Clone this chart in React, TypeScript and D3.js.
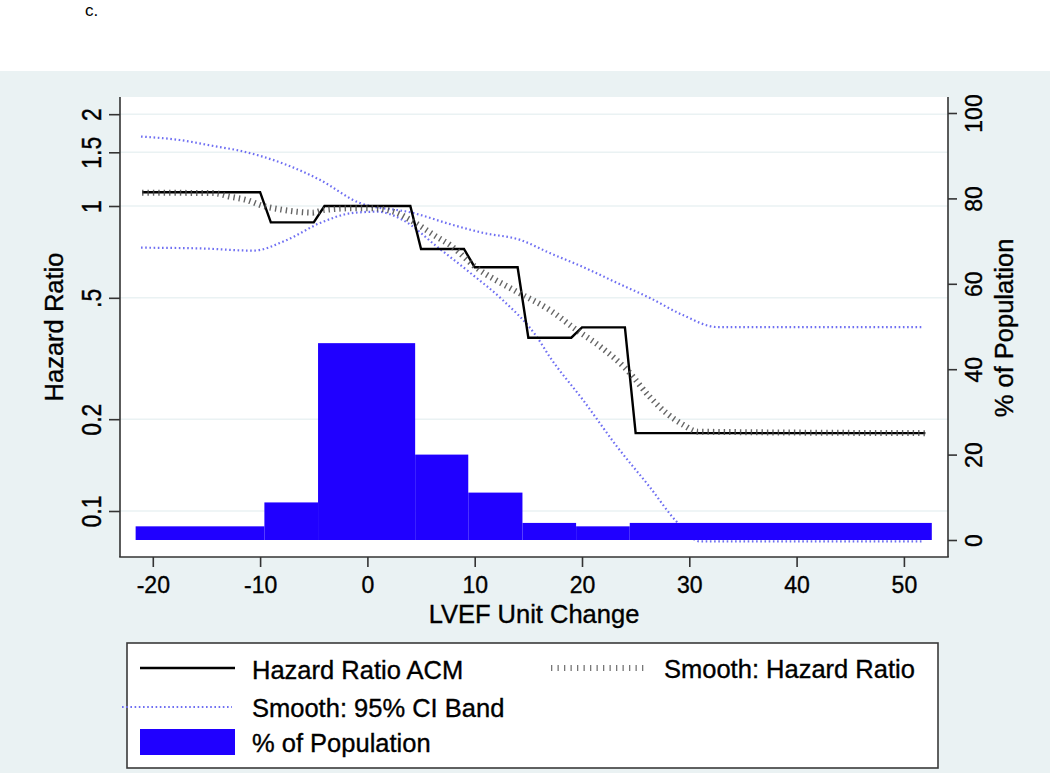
import React, { useEffect, useRef } from 'react';
import * as d3 from 'd3';

// Hazard Ratio ACM (step estimate), breakpoints
const hrX = [-21, -10, -9, -5, -4, 4, 5, 9, 10, 14, 15, 19, 20, 24, 25, 52];
const hrY = [1.11, 1.11, 0.884, 0.884, 1.0, 1.0, 0.723, 0.723, 0.63, 0.63, 0.37, 0.37, 0.4, 0.4, 0.18, 0.18];

// Smooth: Hazard Ratio
const smoothX = [-21, -14.4, -12.8, -11.25, -9.7, -8.15, -6.6, -5.1, -4.05, -1.35, 0.5, 2.75, 4.0, 6.5, 7.7, 10.05, 13.9, 17.0, 19.5, 21.7, 24.2, 26.3, 27.9, 29.4, 30.8, 52];
const smoothY = [1.105, 1.103, 1.073, 1.046, 1.0, 0.975, 0.958, 0.951, 0.97, 0.983, 0.983, 0.949, 0.9, 0.791, 0.745, 0.632, 0.524, 0.456, 0.392, 0.346, 0.29, 0.237, 0.209, 0.192, 0.182, 0.18];

// Smooth: 95% CI band
const upperX = [-21.1, -17.5, -14.0, -12.2, -7.5, -4.4, -0.7, 4.25, 8.0, 10.8, 14.25, 17.0, 20.1, 23.3, 26.3, 29.4, 32.6, 51.8];
const upperY = [1.689, 1.646, 1.565, 1.526, 1.363, 1.217, 1.023, 0.949, 0.866, 0.816, 0.774, 0.701, 0.631, 0.559, 0.5, 0.439, 0.401, 0.401];
const lowerX = [-21.1, -15.6, -10.65, -7.5, -4.4, -1.34, 0.9, 3.3, 6.5, 9.6, 12.6, 15.8, 17.0, 20.1, 23.3, 26.3, 28.85, 31.0, 51.8];
const lowerY = [0.73, 0.726, 0.714, 0.774, 0.88, 0.949, 0.958, 0.9, 0.735, 0.603, 0.492, 0.372, 0.32, 0.231, 0.162, 0.12, 0.092, 0.0795, 0.0795];

// % of Population histogram
const binEdges = [-21.6, -9.6, -4.6, 4.45, 9.4, 14.45, 19.45, 24.45, 52.6];
const popPct = [3.2, 8.8, 46.1, 20.0, 11.1, 4.0, 3.2, 4.0];

const xTicks = [-20, -10, 0, 10, 20, 30, 40, 50];
const hrTicks = [0.1, 0.2, 0.5, 1, 1.5, 2];
const hrTickLabels = ['0.1', '0.2', '.5', '1', '1.5', '2'];
const pctTicks = [0, 20, 40, 60, 80, 100];

const BG = '#eaf2f3';
const BLUE = '#2000ff';
const CI = '#6f6ff2';
const FONT = "'Liberation Sans', Arial, Helvetica, sans-serif";
const TXT_STROKE = 0.35;

export default function App() {
  const ref = useRef<SVGSVGElement>(null);

  useEffect(() => {
    const svg = d3.select(ref.current);
    svg.selectAll('*').remove();

    const left = 120;
    const right = 948;
    const top = 97;
    const bottom = 557;

    const x = d3.scaleLinear().domain([-20, 50]).range([152.8, 903.9]);
    const yHr = d3.scaleLog().domain([0.1, 1]).range([511, 206]);
    const yPct = d3.scaleLinear().domain([0, 100]).range([540, 113]);

    // background regions
    svg.append('rect').attr('x', 0).attr('y', 0).attr('width', 1050).attr('height', 773).attr('fill', '#fff');
    svg.append('rect').attr('x', 0).attr('y', 71).attr('width', 1050).attr('height', 702).attr('fill', BG);
    svg.append('rect').attr('x', left).attr('y', top).attr('width', right - left).attr('height', bottom - top).attr('fill', '#fff');

    svg.append('text').attr('x', 85).attr('y', 16).attr('font-size', 17).attr('font-family', FONT).text('c.');

    // grid lines
    svg
      .append('g')
      .selectAll('line')
      .data(hrTicks)
      .enter()
      .append('line')
      .attr('x1', left)
      .attr('x2', right)
      .attr('y1', (d) => yHr(d))
      .attr('y2', (d) => yHr(d))
      .attr('stroke', BG)
      .attr('stroke-width', 1.6);

    const hrLine = d3
      .line<[number, number]>()
      .x((d) => x(d[0]))
      .y((d) => yHr(d[1]));

    const zip = (a: number[], b: number[]) => a.map((v, i) => [v, b[i]] as [number, number]);

    // CI band
    [zip(upperX, upperY), zip(lowerX, lowerY)].forEach((pts) => {
      svg
        .append('path')
        .attr('d', hrLine.curve(d3.curveMonotoneX)(pts))
        .attr('fill', 'none')
        .attr('stroke', CI)
        .attr('stroke-width', 2.2)
        .attr('stroke-dasharray', '1.6 2.6');
    });

    // histogram bars
    svg
      .append('g')
      .selectAll('rect')
      .data(popPct)
      .enter()
      .append('rect')
      .attr('x', (d, i) => x(binEdges[i]))
      .attr('width', (d, i) => x(binEdges[i + 1]) - x(binEdges[i]))
      .attr('y', (d) => yPct(d))
      .attr('height', (d) => yPct(0) - yPct(d))
      .attr('fill', BLUE);

    // step hazard ratio
    svg
      .append('path')
      .attr('d', hrLine.curve(d3.curveLinear)(zip(hrX, hrY)))
      .attr('fill', 'none')
      .attr('stroke', '#000')
      .attr('stroke-width', 2.4);

    // smooth hazard ratio (hatched)
    svg
      .append('path')
      .attr('d', hrLine.curve(d3.curveMonotoneX)(zip(smoothX, smoothY)))
      .attr('fill', 'none')
      .attr('stroke', '#4a4a4a')
      .attr('stroke-opacity', 0.85)
      .attr('stroke-width', 6)
      .attr('stroke-dasharray', '1.4 4');

    // axis lines
    const axisColor = '#333';
    svg.append('line').attr('x1', left).attr('x2', left).attr('y1', top).attr('y2', bottom).attr('stroke', axisColor).attr('stroke-width', 1.6);
    svg.append('line').attr('x1', right).attr('x2', right).attr('y1', top).attr('y2', bottom).attr('stroke', axisColor).attr('stroke-width', 1.6);
    svg.append('line').attr('x1', left - 0.8).attr('x2', right + 0.8).attr('y1', bottom).attr('y2', bottom).attr('stroke', axisColor).attr('stroke-width', 1.6);

    const styleAxis = (g: any) => {
      g.select('.domain').remove();
      g.selectAll('line').attr('stroke', axisColor).attr('stroke-width', 1.6);
      g.selectAll('text')
        .attr('fill', '#000')
        .attr('stroke', '#000')
        .attr('stroke-width', TXT_STROKE)
        .attr('font-family', FONT);
    };

    const xAxis = svg
      .append('g')
      .attr('transform', `translate(0, ${bottom})`)
      .call(d3.axisBottom(x).tickValues(xTicks).tickSize(10).tickFormat((d: any) => String(d)));
    styleAxis(xAxis);
    xAxis.selectAll('text').attr('y', 36).attr('dy', 0).attr('font-size', 23);

    const yAxisL = svg
      .append('g')
      .attr('transform', `translate(${left}, 0)`)
      .call(
        d3
          .axisLeft(yHr)
          .tickValues(hrTicks)
          .tickSize(11)
          .tickFormat((d: any, i: number) => hrTickLabels[i])
      );
    styleAxis(yAxisL);
    yAxisL
      .selectAll('text')
      .attr('x', 0)
      .attr('dy', 0)
      .attr('text-anchor', 'middle')
      .attr('font-size', 23)
      .attr('transform', 'translate(-19,0) rotate(-90) scale(1,1.2)');

    const yAxisR = svg
      .append('g')
      .attr('transform', `translate(${right}, 0)`)
      .call(d3.axisRight(yPct).tickValues(pctTicks).tickSize(9));
    styleAxis(yAxisR);
    yAxisR
      .selectAll('text')
      .attr('x', 0)
      .attr('dy', 0)
      .attr('text-anchor', 'middle')
      .attr('font-size', 23)
      .attr('transform', 'translate(34,0) rotate(-90)');

    const title = (sel: any) =>
      sel
        .attr('text-anchor', 'middle')
        .attr('font-size', 25.5)
        .attr('font-family', FONT)
        .attr('stroke', '#000')
        .attr('stroke-width', TXT_STROKE);

    // axis titles
    svg.append('text').attr('x', 534).attr('y', 623).call(title).text('LVEF Unit Change');
    svg.append('text').attr('transform', 'translate(63,327) rotate(-90)').call(title).text('Hazard Ratio');
    svg.append('text').attr('transform', 'translate(1013,328) rotate(-90)').call(title).text('% of Population');

    // legend
    const lg = svg.append('g');
    lg.append('rect').attr('x', 127).attr('y', 643).attr('width', 811).attr('height', 125).attr('fill', '#fff').attr('stroke', '#3a3a3a').attr('stroke-width', 1.6);
    lg.append('line').attr('x1', 140).attr('x2', 235).attr('y1', 668).attr('y2', 668).attr('stroke', '#000').attr('stroke-width', 2.4);
    lg.append('line').attr('x1', 551).attr('x2', 646).attr('y1', 668).attr('y2', 668).attr('stroke', '#777').attr('stroke-width', 6).attr('stroke-dasharray', '1.3 5.2');
    lg.append('line').attr('x1', 122).attr('x2', 232).attr('y1', 707).attr('y2', 707).attr('stroke', CI).attr('stroke-width', 2.2).attr('stroke-dasharray', '1.6 2.6');
    lg.append('rect').attr('x', 140).attr('y', 729).attr('width', 95).attr('height', 26).attr('fill', BLUE);

    const legendText = [
      { label: 'Hazard Ratio ACM', x: 252, y: 679 },
      { label: 'Smooth: Hazard Ratio', x: 664, y: 678 },
      { label: 'Smooth: 95% CI Band', x: 252, y: 716.5 },
      { label: '% of Population', x: 252, y: 752 },
    ];
    lg.selectAll('text.lab')
      .data(legendText)
      .enter()
      .append('text')
      .attr('class', 'lab')
      .attr('x', (d) => d.x)
      .attr('y', (d) => d.y)
      .call(title)
      .attr('text-anchor', 'start')
      .text((d) => d.label);
  }, []);

  return (
    <svg
      ref={ref}
      width={1050}
      height={773}
      style={{ position: 'absolute', left: 0, top: 0, display: 'block' }}
    />
  );
}
